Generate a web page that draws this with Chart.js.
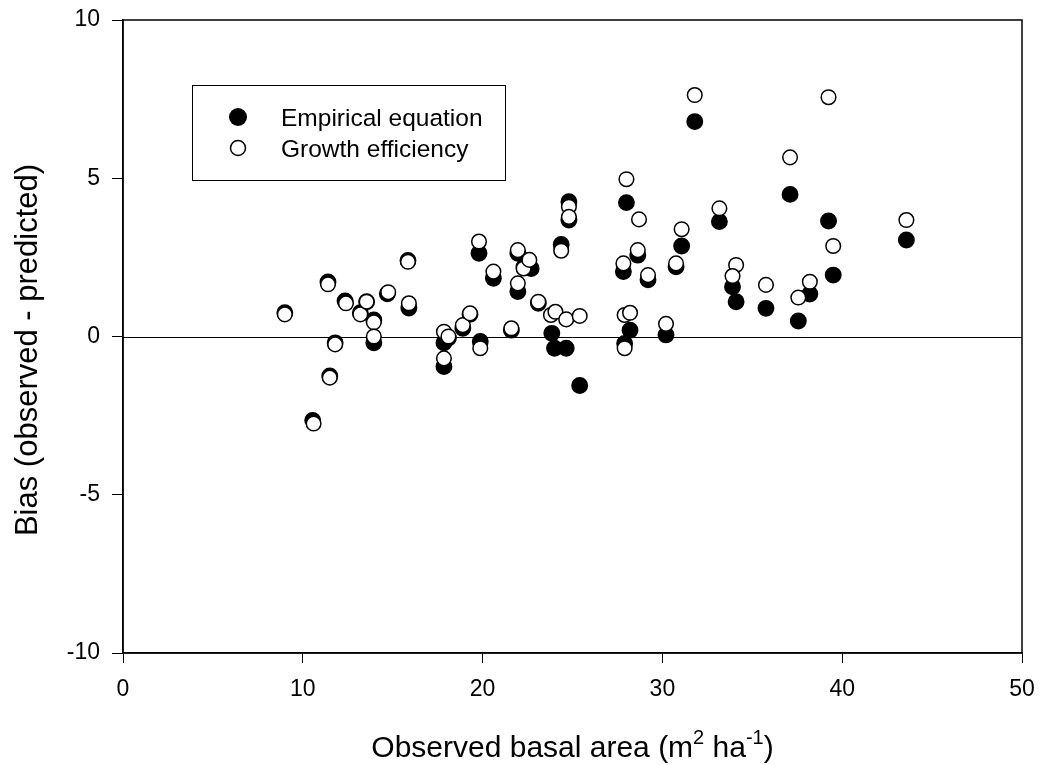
<!DOCTYPE html>
<html>
<head>
<meta charset="utf-8">
<script src="https://cdn.jsdelivr.net/npm/chart.js@4/dist/chart.umd.min.js"></script>
<style>
  html, body { margin: 0; padding: 0; background: #fff; }
  #wrap { width: 1044px; height: 765px; }
</style>
</head>
<body>
<div id="wrap"><canvas id="biasChart" width="1044" height="765"></canvas></div>
<script>
// Empirical equation (filled circles)
const empX = [9.0, 10.55, 11.4, 11.5, 11.8, 12.35, 13.2, 13.55, 13.95, 13.95, 14.7, 15.85, 15.9,
  17.85, 17.85, 18.1, 18.9, 19.3, 19.8, 19.87, 20.6, 21.6, 21.96, 21.96, 22.3, 22.7, 23.1, 23.85, 24.0, 24.65, 25.4, 24.37, 24.8, 24.8,
  28.0, 28.63, 27.83, 29.2, 28.2, 27.9, 30.2, 31.07, 30.76, 31.8, 33.17, 33.9, 34.1,
  35.76, 37.1, 37.56, 38.2, 39.24, 39.5, 43.57];
const empY = [0.75, -2.65, 1.72, -1.25, -0.2, 1.12, 0.75, 1.1, 0.52, -0.2, 1.35, 2.4, 0.9,
  -0.2, -0.95, -0.05, 0.26, 0.7, 2.63, -0.16, 1.84, 0.2, 2.63, 1.42, 2.2, 2.15, 1.05, 0.1, -0.37, -0.37, -1.55, 2.91, 4.26, 3.68,
  4.23, 2.57, 2.05, 1.79, 0.2, -0.22, 0.05, 2.86, 2.2, 6.79, 3.63, 1.57, 1.1,
  0.89, 4.49, 0.49, 1.34, 3.65, 1.94, 3.05];

// Growth efficiency (open circles)
const growX = [9.0, 10.6, 11.4, 11.5, 11.8, 12.4, 13.2, 13.55, 13.95, 13.95, 14.75, 15.85, 15.9,
  17.85, 18.1, 17.85, 18.9, 19.3, 19.8, 19.87, 20.6, 21.6, 21.96, 21.96, 22.28, 22.6, 23.1, 23.8, 24.05, 24.65, 25.4, 24.37, 24.8, 24.8,
  28.0, 28.7, 28.63, 27.83, 29.2, 27.9, 28.2, 27.9, 30.2, 31.07, 30.76, 31.8, 33.17, 34.1, 33.9,
  35.76, 37.1, 37.56, 38.2, 39.24, 39.5, 43.57];
const growY = [0.7, -2.75, 1.65, -1.3, -0.25, 1.05, 0.7, 1.1, 0.45, 0.0, 1.4, 2.36, 1.05,
  0.15, 0.0, -0.69, 0.36, 0.73, 3.0, -0.37, 2.05, 0.26, 2.73, 1.68, 2.15, 2.42, 1.1, 0.68, 0.78, 0.54, 0.65, 2.71, 4.1, 3.78,
  4.97, 3.7, 2.73, 2.31, 1.94, 0.68, 0.75, -0.37, 0.4, 3.39, 2.31, 7.63, 4.05, 2.26, 1.91,
  1.63, 5.66, 1.23, 1.73, 7.56, 2.86, 3.68];

const seriesNames = ['Empirical equation', 'Growth efficiency'];
const yTitle = 'Bias (observed - predicted)';

const FONT = '"Liberation Sans", Arial, sans-serif';

function toPoints(xs, ys) {
    return xs.map((x, i) => ({ x: x, y: ys[i] }));
}

// frame, zero line, legend box and axis titles
const decorPlugin = {
    id: 'decor',
    beforeDatasetsDraw(chart) {
        const { ctx, chartArea: a, scales } = chart;
        ctx.save();
        ctx.strokeStyle = '#000';
        ctx.lineWidth = 1;
        const y0 = Math.round(scales.y.getPixelForValue(0)) + 0.5;
        ctx.beginPath();
        ctx.moveTo(a.left, y0);
        ctx.lineTo(a.right, y0);
        ctx.stroke();
        ctx.restore();
    },
    afterDraw(chart) {
        const { ctx, chartArea: a } = chart;
        ctx.save();
        ctx.strokeStyle = '#000';
        ctx.lineWidth = 1.5;
        ctx.strokeRect(a.left, a.top, a.right - a.left, a.bottom - a.top);

        // legend
        ctx.lineWidth = 1;
        ctx.strokeRect(192.5, 85.5, 313, 95);
        ctx.fillStyle = '#000';
        ctx.beginPath();
        ctx.arc(238, 117, 9, 0, Math.PI * 2);
        ctx.fill();
        ctx.beginPath();
        ctx.arc(238, 148, 7.5, 0, Math.PI * 2);
        ctx.fillStyle = '#fff';
        ctx.fill();
        ctx.lineWidth = 1.5;
        ctx.stroke();
        ctx.fillStyle = '#000';
        ctx.font = '24.5px ' + FONT;
        ctx.textBaseline = 'alphabetic';
        ctx.textAlign = 'left';
        ctx.fillText(seriesNames[0], 281, 126);
        ctx.fillText(seriesNames[1], 281, 157);

        // y title
        ctx.save();
        ctx.translate(37, 350);
        ctx.rotate(-Math.PI / 2);
        ctx.textAlign = 'center';
        ctx.font = '31px ' + FONT;
        ctx.fillText(yTitle, 0, 0);
        ctx.restore();

        // x title with superscripts
        const parts = [
            ['Observed basal area (m', 30, 0],
            ['2', 20, -13],
            [' ha', 30, 0],
            ['-1', 20, -13],
            [')', 30, 0]
        ];
        let total = 0;
        parts.forEach(p => { ctx.font = p[1] + 'px ' + FONT; total += ctx.measureText(p[0]).width; });
        let x = (a.left + a.right) / 2 - total / 2;
        const base = 757;
        parts.forEach(p => {
            ctx.font = p[1] + 'px ' + FONT;
            ctx.fillText(p[0], x, base + p[2]);
            x += ctx.measureText(p[0]).width;
        });
        ctx.restore();
    }
};

const ctx = document.getElementById('biasChart').getContext('2d');
new Chart(ctx, {
    type: 'scatter',
    data: {
        datasets: [{
            label: seriesNames[0],
            data: toPoints(empX, empY),
            backgroundColor: '#000',
            borderColor: '#000',
            borderWidth: 1.5,
            pointRadius: 7.7,
            order: 2
        }, {
            label: seriesNames[1],
            data: toPoints(growX, growY),
            backgroundColor: '#fff',
            borderColor: '#000',
            borderWidth: 1.5,
            pointRadius: 7.3,
            order: 1
        }]
    },
    options: {
        responsive: false,
        animation: false,
        devicePixelRatio: 1,
        layout: { padding: { left: 0, top: 20, right: 22, bottom: 0 } },
        plugins: {
            legend: { display: false },
            tooltip: { enabled: false }
        },
        scales: {
            x: {
                type: 'linear',
                min: 0,
                max: 50,
                ticks: { stepSize: 10, color: '#000', font: { family: FONT, size: 23, lineHeight: 1 }, padding: 15, maxRotation: 0 },
                grid: { drawOnChartArea: false, color: '#000', tickLength: 10 },
                border: { color: '#000', width: 1.5 },
                afterFit(scale) {
                    scale.height = 112;
                    scale.paddingLeft = 0;
                    scale.paddingRight = 0;
                }
            },
            y: {
                min: -10,
                max: 10,
                ticks: { stepSize: 5, color: '#000', font: { family: FONT, size: 23, lineHeight: 1 }, padding: 12 },
                grid: { drawOnChartArea: false, color: '#000', tickLength: 11 },
                border: { color: '#000', width: 1.5 },
                afterFit(scale) {
                    scale.width = 123;
                    scale.paddingTop = 0;
                    scale.paddingBottom = 0;
                }
            }
        }
    },
    plugins: [decorPlugin]
});
</script>
</body>
</html>
